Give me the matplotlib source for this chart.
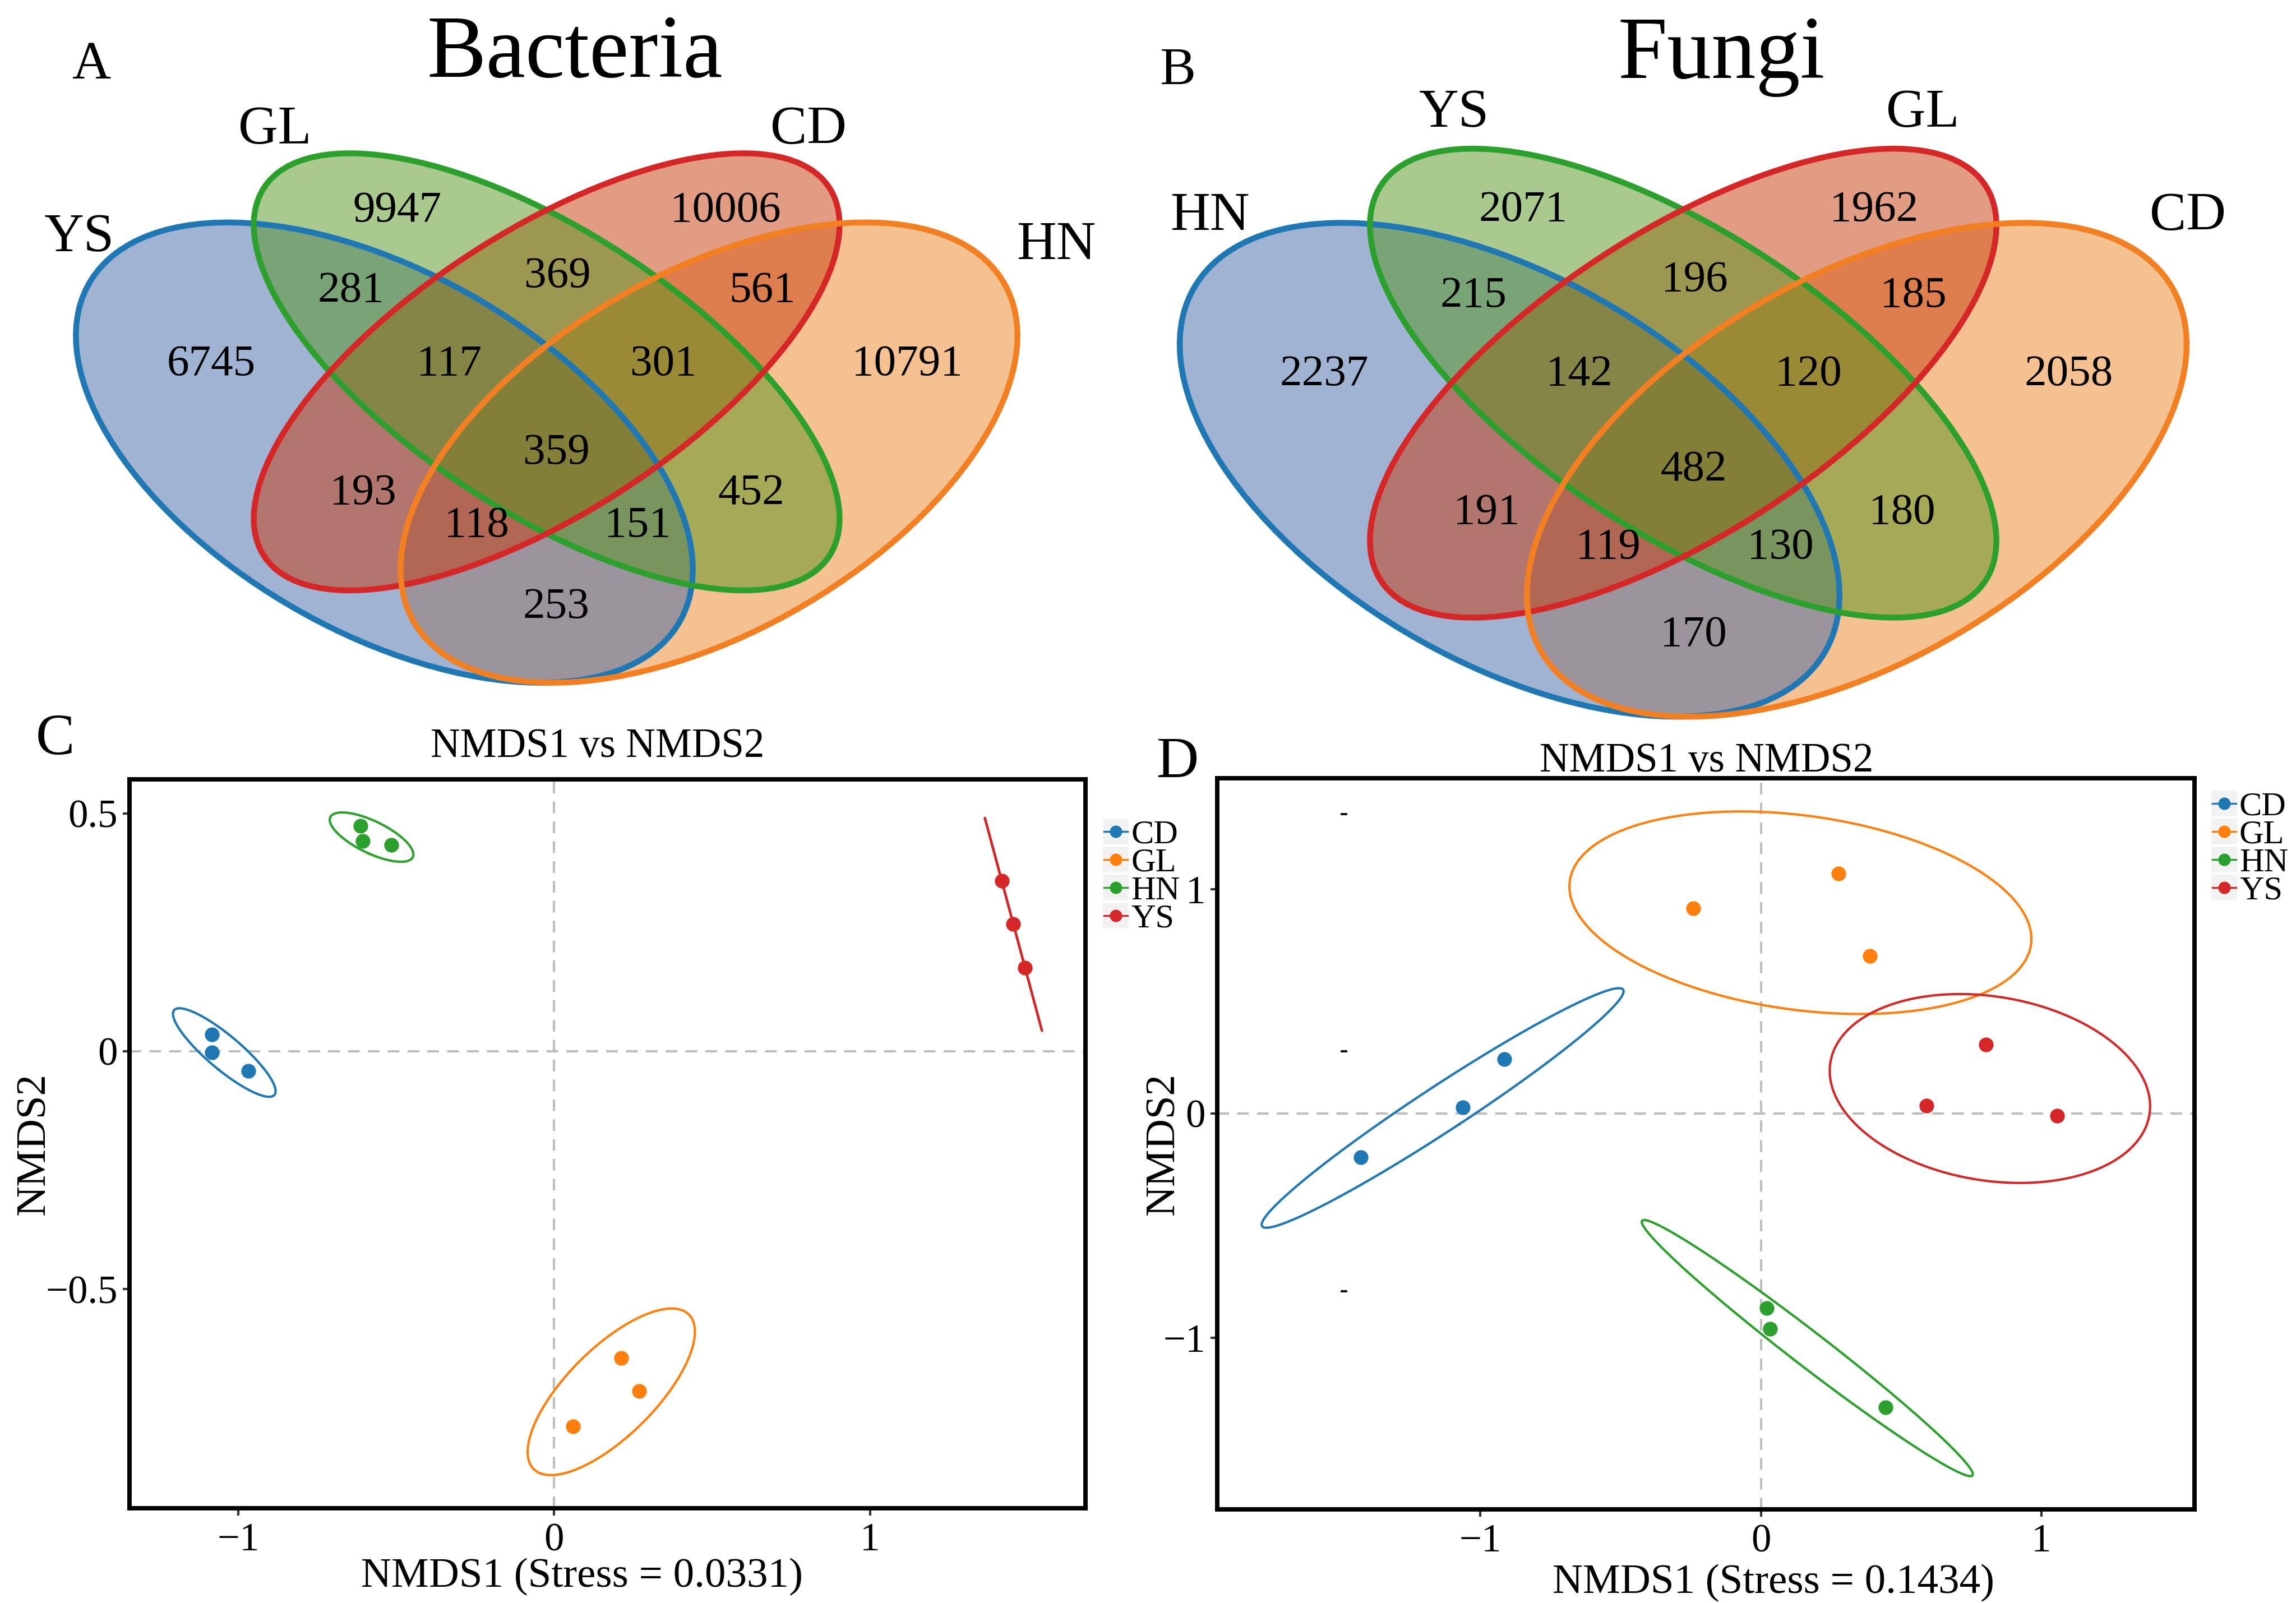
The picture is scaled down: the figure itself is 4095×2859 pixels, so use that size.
import numpy as np
import matplotlib
matplotlib.use('Agg')
import matplotlib.pyplot as plt
from matplotlib.patches import Ellipse, Rectangle
from matplotlib.lines import Line2D
from matplotlib.ticker import FuncFormatter

plt.rcParams['font.family'] = ['Liberation Serif', 'DejaVu Serif']
plt.rcParams['axes.unicode_minus'] = True

W, H, DPI = 4095, 2859, 300

# ---------------- Venn data ----------------
# region order: B, G, R, O, BG, GR, RO, BGR, GRO, BGRO, BR, GO, BRO, BGO, BO
# (B = outer-left, G = inner-left, R = inner-right, O = outer-right)
bac_sets = ['YS', 'GL', 'CD', 'HN']
bac_counts = [6745, 9947, 10006, 10791, 281, 369, 561, 117, 301, 359,
              193, 452, 118, 151, 253]
fun_sets = ['HN', 'YS', 'GL', 'CD']
fun_counts = [2237, 2071, 1962, 2058, 215, 196, 185, 142, 120, 482,
              191, 180, 119, 130, 170]

# ---------------- NMDS data ----------------
groups = ['CD', 'GL', 'HN', 'YS']
bac_nmds1 = [[-1.083, -1.083, -0.968], [0.213, 0.269, 0.060],
             [-0.613, -0.606, -0.516], [1.417, 1.454, 1.491]]
bac_nmds2 = [[0.035, -0.002, -0.041], [-0.645, -0.714, -0.788],
             [0.474, 0.442, 0.434], [0.358, 0.267, 0.175]]
fun_nmds1 = [[-1.427, -1.062, -0.915], [-0.242, 0.276, 0.389],
             [0.021, 0.032, 0.444], [0.802, 0.591, 1.057]]
fun_nmds2 = [[-0.195, 0.028, 0.241], [0.914, 1.068, 0.701],
             [-0.868, -0.958, -1.309], [0.308, 0.036, -0.010]]

grp_colors = ['#1F77B4', '#FF7F0E', '#2CA02C', '#D62728']

# venn template (unit square, like VennDiagram's quad layout)
venn_shapes = [(0.35, 0.47, 0.35, 0.200, -45),   # outer left
               (0.50, 0.57, 0.35, 0.155, -45),   # inner left
               (0.50, 0.57, 0.35, 0.155, 45),    # inner right
               (0.65, 0.47, 0.35, 0.200, 45)]    # outer right
venn_edge = ['#1F77B4', '#2CA02C', '#D62728', '#F28022']
venn_fill = ['#4369A9', '#57951F', '#C73B0B', '#EF8523']
fill_order = [3, 0, 2, 1]
region_xy = [(0.190, 0.585), (0.362, 0.775), (0.665, 0.775), (0.833, 0.585),
             (0.319, 0.676), (0.510, 0.694), (0.699, 0.676), (0.410, 0.585),
             (0.608, 0.585), (0.509, 0.475), (0.330, 0.425), (0.689, 0.425),
             (0.435, 0.385), (0.584, 0.385), (0.509, 0.284)]


def fx(px):
    return px / W


def fy(py):
    return 1 - py / H


def px_axes(fig, left, top, right, bottom):
    return fig.add_axes([fx(left), fy(bottom), (right - left) / W, (bottom - top) / H])


def draw_venn(ax, counts, names, name_xy):
    for i in fill_order:
        cx, cy, a, b, ang = venn_shapes[i]
        ax.add_patch(Ellipse((cx, cy), 2 * a, 2 * b, angle=ang, facecolor=venn_fill[i],
                             alpha=0.5, edgecolor='none', zorder=1))
    for i in range(4):
        cx, cy, a, b, ang = venn_shapes[i]
        ax.add_patch(Ellipse((cx, cy), 2 * a, 2 * b, angle=ang, facecolor='none',
                             edgecolor=venn_edge[i], lw=2.5, zorder=2))
    for (x, y), n in zip(region_xy, counts):
        ax.annotate(str(n), (x, y), xytext=(0, -6.5), textcoords='offset points',
                    ha='center', va='baseline', fontsize=19, zorder=3)
    for (x, y), s in zip(name_xy, names):
        ax.text(x, y, s, ha='center', va='baseline', fontsize=23.5)
    ax.set_xlim(0, 1)
    ax.set_ylim(0, 1)
    ax.axis('off')


def ellipse_pts(x, y, n=200):
    pts = np.column_stack([x, y])
    c = pts.mean(axis=0)
    cov = np.cov(pts.T)
    w, v = np.linalg.eigh(cov)
    w = np.clip(w, 0, None)
    r = np.sqrt(-2 * np.log(0.05))
    t = np.linspace(0, 2 * np.pi, n)
    circ = np.column_stack([np.cos(t), np.sin(t)])
    e = c + r * circ @ (v * np.sqrt(w)).T
    return e[:, 0], e[:, 1]


def fmt(v, pos):
    return ('%g' % v).replace('-', '\u2212')


def draw_nmds(ax, xs, ys):
    allx, ally = [], []
    for x, y, col in zip(xs, ys, grp_colors):
        ex, ey = ellipse_pts(x, y)
        ax.plot(ex, ey, color=col, lw=1.0, zorder=2)
        ax.plot(x, y, 'o', color=col, ms=6.3, mec='none', zorder=3)
        allx.extend(ex)
        ally.extend(ey)
    x0, x1 = min(allx), max(allx)
    y0, y1 = min(ally), max(ally)
    dx, dy = (x1 - x0) * 0.05, (y1 - y0) * 0.05
    ax.set_xlim(x0 - dx, x1 + dx)
    ax.set_ylim(y0 - dy, y1 + dy)
    ax.axhline(0, color='#BEBEBE', lw=1.0, dashes=(5, 3.5), zorder=1)
    ax.axvline(0, color='#BEBEBE', lw=1.0, dashes=(5, 3.5), zorder=1)
    for s in ax.spines.values():
        s.set_linewidth(1.9)
        s.set_color('black')
    ax.tick_params(direction='out', length=3, width=1, color='#333333',
                   labelsize=17, labelcolor='black')
    ax.tick_params(axis='x', pad=3)
    ax.tick_params(axis='y', pad=2)
    ax.xaxis.set_major_formatter(FuncFormatter(fmt))
    ax.yaxis.set_major_formatter(FuncFormatter(fmt))


def draw_key(fig, left, top, size=46, gap=50, text_dx=50):
    for i, (g, col) in enumerate(zip(groups, grp_colors)):
        t = top + i * gap
        fig.add_artist(Rectangle((fx(left), fy(t + size)), size / W, size / H,
                                 transform=fig.transFigure, facecolor='#F2F2F2',
                                 edgecolor='none'))
        cy = fy(t + size / 2)
        fig.add_artist(Line2D([fx(left + 2), fx(left + size - 2)], [cy, cy],
                              transform=fig.transFigure, color=col, lw=0.8))
        fig.add_artist(Line2D([fx(left + size / 2)], [cy], transform=fig.transFigure,
                              marker='o', color=col, ms=5.3, mec='none', ls='none'))
        fig.text(fx(left + text_dx), cy, g, ha='left', va='center_baseline', fontsize=14.5)


fig = plt.figure(figsize=(W / DPI, H / DPI), dpi=DPI)

# ---- A: bacteria venn ----
axA = px_axes(fig, 10, 44, 1940, 1484)
draw_venn(axA, bac_counts, bac_sets,
          [(0.068, 0.719), (0.249, 0.853), (0.742, 0.853), (0.971, 0.710)])
fig.text(fx(1025), fy(137), 'Bacteria', ha='center', va='baseline', fontsize=38)
fig.text(fx(163), fy(140), 'A', ha='center', va='baseline', fontsize=23)

# ---- B: fungi venn ----
axB = px_axes(fig, 1970, 19, 4034, 1564)
draw_venn(axB, fun_counts, fun_sets,
          [(0.091, 0.747), (0.302, 0.866), (0.707, 0.866), (0.936, 0.747)])
fig.text(fx(3070), fy(139), 'Fungi', ha='center', va='baseline', fontsize=38)
fig.text(fx(2100), fy(151), 'B', ha='center', va='baseline', fontsize=23)

# ---- C: bacteria NMDS ----
axC = px_axes(fig, 231, 1390, 1936, 2690)
draw_nmds(axC, bac_nmds1, bac_nmds2)
axC.set_xticks([-1, 0, 1])
axC.set_yticks([-0.5, 0, 0.5])
fig.text(fx(1066), fy(1350), 'NMDS1 vs NMDS2', ha='center', va='baseline', fontsize=17.5)
fig.text(fx(1038), fy(2830), 'NMDS1 (Stress = 0.0331)', ha='center', va='baseline', fontsize=18)
fig.text(fx(62), fy(2040), 'NMDS2', ha='center', va='center', rotation=90, fontsize=18)
fig.text(fx(98), fy(1345), 'C', ha='center', va='baseline', fontsize=25)
draw_key(fig, 1967, 1460)

# ---- D: fungi NMDS ----
axD = px_axes(fig, 2171, 1388, 3914, 2692)
draw_nmds(axD, fun_nmds1, fun_nmds2)
axD.set_xticks([-1, 0, 1])
axD.set_yticks([-1, 0, 1])
fig.text(fx(3044), fy(1376), 'NMDS1 vs NMDS2', ha='center', va='baseline', fontsize=17.5)
fig.text(fx(3163), fy(2841), 'NMDS1 (Stress = 0.1434)', ha='center', va='baseline', fontsize=18)
fig.text(fx(2076), fy(2040), 'NMDS2', ha='center', va='center', rotation=90, fontsize=18)
fig.text(fx(2101), fy(1386), 'D', ha='center', va='baseline', fontsize=25)
draw_key(fig, 3944, 1410)

# leftover tick stubs seen inside panel D
for yy in (1452, 1875, 2303):
    fig.add_artist(Line2D([fx(2393), fx(2401)], [fy(yy), fy(yy)],
                          transform=fig.transFigure, color='black', lw=0.9))

fig.savefig('out.png', dpi=DPI)
